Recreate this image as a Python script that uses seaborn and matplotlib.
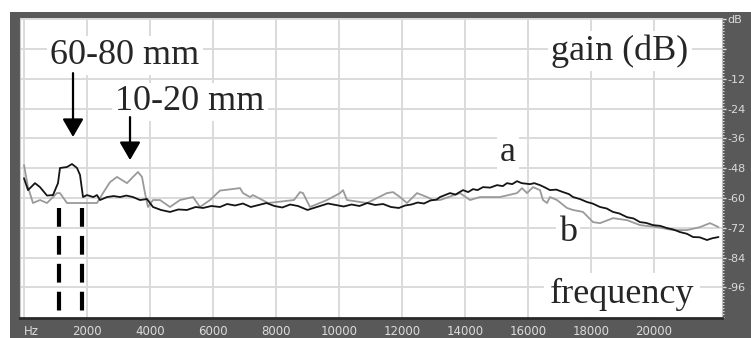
import numpy as np
import pandas as pd
import matplotlib
matplotlib.use("Agg")
import matplotlib.pyplot as plt
from matplotlib.patches import Rectangle
from matplotlib.ticker import MultipleLocator
import seaborn as sns

# Spectrum readings (Hz, dB)
freq_a = [0, 127, 349, 508, 730, 921, 1079, 1143, 1365, 1524, 1683, 1778, 1873,
          2000, 2200, 2317, 2413, 2635, 2850, 3048, 3250, 3460, 3683, 3905,
          4095, 4350, 4635, 4900, 5175, 5450, 5683, 5950,
          6222, 6450, 6700, 6950, 7200, 7450, 7700, 7950, 8200, 8450, 8700,
          9000, 9200, 9400, 9650, 9900, 10150, 10400, 10650, 10900, 11150,
          11400, 11650, 11900, 12100, 12300, 12500, 12700, 12900, 13100, 13208,
          13526, 13700, 13938, 14100, 14256, 14400, 14573, 14800, 15018, 15200,
          15335, 15500, 15653, 15800, 16065, 16200, 16383, 16550, 16700, 16900,
          17113, 17300, 17431, 17650, 17875, 18050, 18288, 18500, 18701, 18900,
          19145, 19350, 19558, 19750, 19971, 20200, 20415, 20600, 20828, 21050,
          21241, 21450, 21685, 21850, 22050]
gain_a = [-52.0, -56.8, -54.0, -55.6, -59.0, -58.8, -54.0, -47.9, -47.5, -46.3,
          -47.9, -50.7, -59.6,
          -58.8, -59.6, -58.8, -60.8, -59.6, -59.2, -59.6, -59.0, -59.6, -60.8,
          -60.4, -63.6, -64.8, -65.6, -64.6, -64.8, -63.6, -64.0, -63.2,
          -63.6, -62.4, -63.0, -62.2, -63.6, -62.8, -62.0, -63.2, -63.8, -62.6,
          -63.2, -64.8, -64.0, -63.2, -62.2, -62.8, -63.4, -62.6, -63.2, -62.0,
          -62.8, -62.4, -63.6, -64.0, -63.0, -62.6, -61.8, -62.2, -61.0, -60.6,
          -59.6,
          -58.0, -58.6, -56.8, -57.6, -56.4, -56.8, -55.6, -55.8, -54.8, -55.2,
          -54.0, -54.4, -53.2, -54.0, -54.4, -54.0, -54.8, -55.8, -56.8, -56.6,
          -57.6, -58.4, -59.6, -60.4, -61.6, -62.2, -63.6, -64.2, -65.6, -66.2,
          -67.7, -68.2, -69.7, -70.0, -70.9, -71.2, -72.1, -72.6, -73.7, -74.4,
          -75.7, -75.8, -76.9, -76.2, -75.7]

freq_b = [0, 127, 285, 508, 730, 1047, 1143, 1365, 1683, 2000, 2317, 2508, 2730,
          2953, 3270, 3460, 3619, 3746, 3841, 3937, 4095, 4318, 4635, 4953, 5366,
          5588, 5906, 6222, 6858, 6953, 7175, 7271, 7747, 8572, 8763, 8858, 9080,
          9620, 10033, 10128, 10255, 10890, 11525, 11716, 11938, 12160, 12478,
          12796, 12986, 13208, 13843, 14161, 14478, 15113, 15653, 15812, 15970,
          16161, 16383, 16478, 16605, 16700, 16922, 17240, 17431, 17748, 18066,
          18288, 18701, 19145, 19558, 20098, 20606, 21050, 21463, 21780, 22050]
gain_b = [-46.7, -55.6, -62.0, -60.8, -62.0, -58.0, -58.0, -62.0, -62.0, -62.0,
          -62.0, -58.0, -53.6, -51.5, -54.0, -51.5, -49.5, -51.5, -58.0, -63.6,
          -60.8, -60.8, -63.6, -60.8, -59.6, -63.6, -60.8, -57.0, -56.0, -58.0,
          -59.6, -58.8, -62.0, -60.8, -57.6, -58.0, -63.6, -60.8, -58.0, -56.8,
          -60.8, -62.0, -58.0, -57.6, -59.6, -62.0, -58.0, -59.6, -60.8, -60.8,
          -58.0, -60.8, -59.6, -59.6, -58.0, -56.0, -58.0, -55.6, -56.8, -60.8,
          -62.0, -59.6, -60.8, -64.0, -64.8, -65.6, -69.7, -70.1, -68.1, -68.9,
          -70.9, -71.7, -72.9, -72.9, -71.7, -70.1, -71.7]

band_edges = [1111, 1842]          # dashed markers (Hz)
x_ticks = [0, 2000, 4000, 6000, 8000, 10000, 12000, 14000, 16000, 18000, 20000]
x_labels = ["Hz", "2000", "4000", "6000", "8000", "10000", "12000", "14000",
            "16000", "18000", "20000"]
y_ticks = [12, 0, -12, -24, -36, -48, -60, -72, -84, -96]
y_labels = ["dB", "", "-12", "-24", "-36", "-48", "-60", "-72", "-84", "-96"]

df = pd.concat([
    pd.DataFrame({"freq": freq_a, "gain": gain_a, "curve": "a"}),
    pd.DataFrame({"freq": freq_b, "gain": gain_b, "curve": "b"}),
])

sns.set_style("white")
W, H = 751, 338
fig = plt.figure(figsize=(W / 100, H / 100), dpi=100)
fig.patch.set_facecolor("white")
frame = "#595959"
fig.patches.append(Rectangle((10 / W, 0), 1 - 10 / W, (H - 12) / H,
                             transform=fig.transFigure, facecolor=frame,
                             edgecolor="none", zorder=-10))

ax = fig.add_axes([20 / W, 20 / H, (722 - 20) / W, 300 / H])
ax.set_facecolor("white")

ax.grid(True, color="#dadada", linewidth=1.4)
ax.set_axisbelow(True)

sns.lineplot(data=df, x="freq", y="gain", hue="curve",
             palette={"a": "#151515", "b": "#9a9a9a"},
             hue_order=["b", "a"], linewidth=1.3, legend=False,
             estimator=None, sort=False, ax=ax)

for f in band_edges:
    ax.plot([f, f], [-64, -108], color="black", linewidth=3,
            dashes=(4.5, 2.2), solid_capstyle="butt", zorder=3)

serif = ["Liberation Serif", "DejaVu Serif"]
box = dict(facecolor="white", edgecolor="none", pad=2)
ax.text(3207, -2.6, "60-80 mm", family=serif, fontsize=26, ha="center",
        va="center", bbox=box, zorder=4)
ax.text(5270, -21.3, "10-20 mm", family=serif, fontsize=26, ha="center",
        va="center", bbox=box, zorder=4)
ax.text(18923, -0.8, "gain (dB)", family=serif, fontsize=26, ha="center",
        va="center", bbox=box, zorder=4)
ax.text(15367, -41.5, "a", family=serif, fontsize=26, ha="center",
        va="center", bbox=box, zorder=4)
ax.text(17272, -73.7, "b", family=serif, fontsize=26, ha="center",
        va="center", bbox=box, zorder=4)
ax.text(18987, -99.0, "frequency", family=serif, fontsize=26, ha="center",
        va="center", bbox=dict(facecolor="white", edgecolor="none", pad=4),
        zorder=4)

arrow = dict(arrowstyle="-|>,head_length=0.55,head_width=0.32",
             mutation_scale=20, color="black", linewidth=1.6,
             shrinkA=0, shrinkB=0)
ax.annotate("", xy=(1556, -35.4), xytext=(1556, -9.7), arrowprops=arrow,
            zorder=5)
ax.annotate("", xy=(3366, -44.7), xytext=(3366, -27.4), arrowprops=arrow,
            zorder=5)

ax.set_xlim(-127, 22161)
ax.set_ylim(-108.3, 12.5)
ax.set_xticks(x_ticks)
ax.set_xticklabels(x_labels)
ax.xaxis.set_minor_locator(MultipleLocator(1000))
ax.yaxis.tick_right()
ax.set_yticks(y_ticks)
ax.set_yticklabels(y_labels)
ax.yaxis.set_minor_locator(MultipleLocator(1.2))
ax.set_xlabel("")
ax.set_ylabel("")

light = "#dcdcdc"
ax.tick_params(axis="x", which="major", direction="out", length=4, width=1,
               color=light, labelcolor=light, labelsize=8.5, pad=1)
ax.tick_params(axis="x", which="minor", direction="out", length=2, width=1,
               color=light)
ax.tick_params(axis="y", which="major", direction="out", length=3, width=1,
               color=light, labelcolor=light, labelsize=8, pad=1, right=True,
               left=False)
ax.tick_params(axis="y", which="minor", direction="out", length=1.5, width=0.8,
               color=light, right=True, left=False)
ax.get_xticklabels()[0].set_ha("left")

ax.spines["bottom"].set_color("#2a2a2a")
ax.spines["bottom"].set_linewidth(2)
ax.spines["left"].set_color("#c8c8c8")
ax.spines["right"].set_color("#bdbdbd")
ax.spines["top"].set_visible(False)

fig.savefig("out.png", dpi=100, facecolor=fig.get_facecolor())
